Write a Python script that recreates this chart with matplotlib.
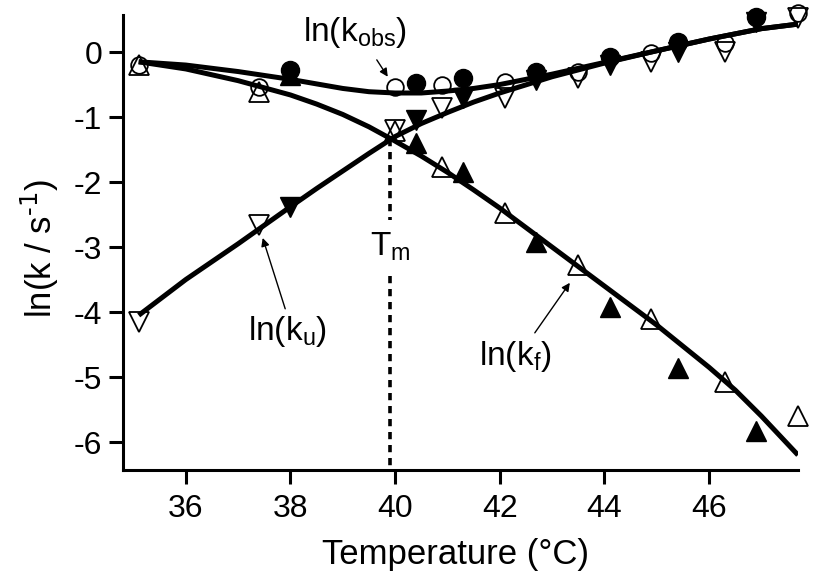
import matplotlib
matplotlib.use("Agg")
import matplotlib.pyplot as plt

plt.rcParams["font.family"] = ["Liberation Sans", "DejaVu Sans"]
plt.rcParams["mathtext.default"] = "regular"

# measured rate constants, set A (open symbols)
temp_a = [35.1, 37.4, 40.0, 40.9, 42.1, 43.5, 44.9, 46.3, 47.7]
lnkobs_a = [-0.20, -0.54, -0.54, -0.51, -0.46, -0.31, -0.02, 0.14, 0.60]
lnku_a = [-4.15, -2.66, -1.20, -0.86, -0.70, -0.40, -0.15, 0.00, 0.52]
lnkf_a = [-0.20, -0.62, -1.22, -1.77, -2.48, -3.28, -4.10, -5.07, -5.60]

# measured rate constants, set B (filled symbols)
temp_b = [38.0, 40.4, 41.3, 42.7, 44.1, 45.4, 46.9]
lnkobs_b = [-0.28, -0.48, -0.40, -0.31, -0.08, 0.15, 0.54]
lnku_b = [-2.38, -1.05, -0.70, -0.43, -0.20, 0.00, 0.46]
lnkf_b = [-0.35, -1.40, -1.85, -2.92, -3.92, -4.86, -5.83]

# fitted curves
temp_fit = [35.1, 36, 37, 38, 38.5, 39, 39.5, 40, 40.5, 41, 41.5, 42, 43, 44,
            45, 46, 46.5, 47, 47.7]
lnku_fit = [-4.05, -3.50, -2.95, -2.38, -2.10, -1.83, -1.56, -1.30, -1.10,
            -0.93, -0.77, -0.63, -0.38, -0.17, 0.02, 0.20, 0.28, 0.36, 0.43]
lnkf_fit = [-0.15, -0.26, -0.44, -0.66, -0.80, -0.96, -1.15, -1.37, -1.60,
            -1.85, -2.12, -2.40, -3.00, -3.60, -4.20, -4.85, -5.20, -5.60,
            -6.20]
lnkobs_fit = [-0.15, -0.20, -0.30, -0.42, -0.49, -0.56, -0.61, -0.63, -0.63,
              -0.60, -0.56, -0.50, -0.34, -0.16, 0.02, 0.20, 0.28, 0.36, 0.43]

TM = 39.9

fig = plt.figure(figsize=(8.17, 5.8), dpi=100)
ax = fig.add_axes([123 / 817, 110 / 580, 675 / 817, 455 / 580])

lw = 3.6
for ys in (lnkobs_fit, lnku_fit, lnkf_fit):
    ax.plot(temp_fit, ys, color="black", lw=lw, zorder=3,
            solid_joinstyle="round", solid_capstyle="butt")

mk = dict(ls="none", color="black", clip_on=False, zorder=4)
ax.plot(temp_a, lnkobs_a, marker="o", ms=12, mfc="none", mew=1.3, **mk)
ax.plot(temp_a, lnku_a, marker="v", ms=14, mfc="none", mew=1.3, **mk)
ax.plot(temp_a, lnkf_a, marker="^", ms=14, mfc="none", mew=1.3, **mk)
ax.plot(temp_b, lnkobs_b, marker="o", ms=13, mfc="black", **mk)
ax.plot(temp_b, lnku_b, marker="v", ms=14, mfc="black", **mk)
ax.plot(temp_b, lnkf_b, marker="^", ms=14, mfc="black", **mk)

# Tm marker line with a gap for its label
dots = dict(color="black", lw=2.6, ls=(0, (2, 1.6)), zorder=2)
ax.plot([TM, TM], [-1.34, -2.58], **dots)
ax.plot([TM, TM], [-3.45, -6.43], **dots)
ax.text(TM, -3.0, "T$_m$", fontsize=24, ha="center", va="center")

arrow = dict(arrowstyle="-|>", color="black", lw=1.0, mutation_scale=12,
             shrinkA=0, shrinkB=0)
ax.text(39.23, 0.30, "ln(k$_{obs}$)", fontsize=24, ha="center", va="center")
ax.annotate("", xy=(39.86, -0.38), xytext=(39.65, -0.12), arrowprops=arrow)
ax.text(37.95, -4.30, "ln(k$_u$)", fontsize=24, ha="center", va="center")
ax.annotate("", xy=(37.47, -2.86), xytext=(37.9, -3.95), arrowprops=arrow)
ax.text(42.3, -4.68, "ln(k$_f$)", fontsize=24, ha="center", va="center")
ax.annotate("", xy=(43.34, -3.55), xytext=(42.67, -4.32), arrowprops=arrow)

ax.set_xlim(34.8, 47.7)
ax.set_ylim(-6.43, 0.57)
ax.set_xticks([36, 38, 40, 42, 44, 46])
ax.set_yticks([0, -1, -2, -3, -4, -5, -6])
ax.set_yticklabels(["0", "-1", "-2", "-3", "-4", "-5", "-6"])
for s in ["top", "right"]:
    ax.spines[s].set_visible(False)
for s in ["left", "bottom"]:
    ax.spines[s].set_linewidth(2.2)
ax.tick_params(direction="out", length=10, width=2.2, labelsize=23)
ax.tick_params(axis="x", pad=7)
ax.tick_params(axis="y", pad=5)

ax.set_xlabel("Temperature (°C)", fontsize=25)
ax.xaxis.set_label_coords(0.492, -0.15)
fig.text(40 / 817, 1 - 248 / 580, r"ln(k / s$^{\text{-1}}$)", fontsize=25,
         rotation=90, ha="center", va="center")

fig.savefig("out.png", dpi=100)
